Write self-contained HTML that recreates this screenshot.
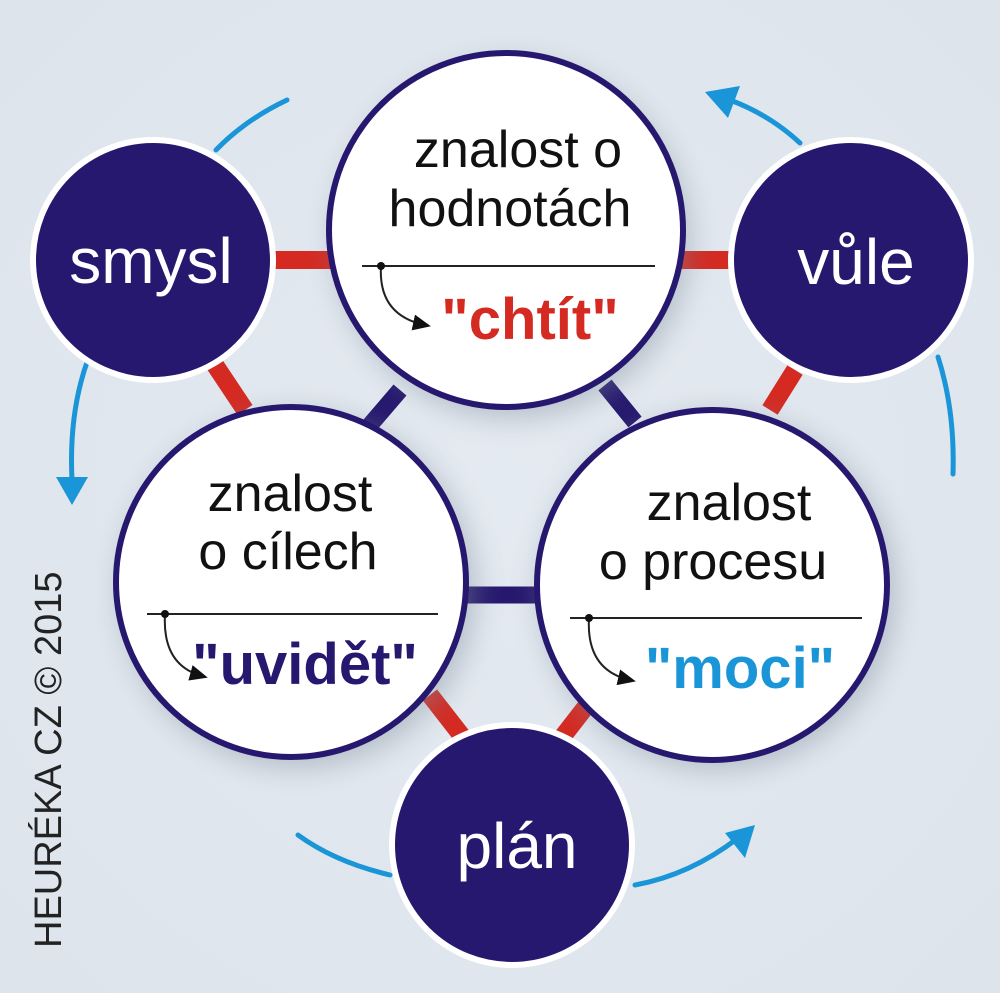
<!DOCTYPE html>
<html><head><meta charset="utf-8"><style>
html,body{margin:0;padding:0;background:#dfe6ee;}
svg{display:block;}
text{font-family:"Liberation Sans",sans-serif;}
</style></head><body>
<svg width="1000" height="993" viewBox="0 0 1000 993" xmlns="http://www.w3.org/2000/svg">
<defs>
<radialGradient id="bg" cx="0.5" cy="0.5" r="0.7"><stop offset="0" stop-color="#e4eaf1"/><stop offset="1" stop-color="#dde4ec"/></radialGradient>
<filter id="sh" x="-30%" y="-30%" width="160%" height="160%"><feGaussianBlur stdDeviation="14"/></filter>
<marker id="ah" markerWidth="20" markerHeight="16" refX="12" refY="8" orient="auto" markerUnits="userSpaceOnUse"><path d="M0,0 L18,8 L0,16 Z" fill="#111"/></marker>
</defs>
<rect width="1000" height="993" fill="url(#bg)"/>
<g stroke="#1a95d8" stroke-width="5" fill="none" stroke-linecap="round">
<path d="M287,100 Q245,120 216,150"/>
<path d="M96,340 Q68,400 72,480"/>
<path d="M800,143 Q770,115 730,100"/>
<path d="M938,357 Q955,410 953,474"/>
<path d="M298,835 Q335,862 390,875"/>
<path d="M635,885 Q690,875 738,838"/>
</g>
<g fill="#1a95d8">
<polygon points="56,477 88,477 72,505"/>
<polygon points="705,92 740,86 728,118"/>
<polygon points="755,825 745,858 725,833"/>
</g>
<g stroke-linecap="butt">
<line x1="270" y1="260" x2="335" y2="260" stroke="#d42a22" stroke-width="18"/>
<line x1="680" y1="260" x2="735" y2="260" stroke="#d42a22" stroke-width="18"/>
<line x1="215" y1="365" x2="245" y2="410" stroke="#d42a22" stroke-width="18"/>
<line x1="795" y1="370" x2="770" y2="410" stroke="#d42a22" stroke-width="18"/>
<line x1="430" y1="695" x2="465" y2="740" stroke="#d42a22" stroke-width="18"/>
<line x1="595" y1="695" x2="560" y2="740" stroke="#d42a22" stroke-width="18"/>
<line x1="400" y1="390" x2="370" y2="425" stroke="#26186e" stroke-width="17"/>
<line x1="605" y1="385" x2="635" y2="422" stroke="#26186e" stroke-width="17"/>
<line x1="460" y1="595" x2="545" y2="595" stroke="#26186e" stroke-width="17"/>
</g>
<g fill="#7f8a99" opacity="0.45" filter="url(#sh)">
<circle cx="512" cy="240" r="178"/>
<circle cx="298" cy="590" r="178"/>
<circle cx="718" cy="592" r="178"/>
</g>
<g fill="#fff" stroke="#26186e" stroke-width="6">
<circle cx="506" cy="230" r="177"/>
<circle cx="291" cy="582" r="175"/>
<circle cx="712" cy="585" r="175"/>
</g>
<g fill="#27186f" stroke="#fff" stroke-width="6">
<circle cx="153" cy="260" r="120"/>
<circle cx="851" cy="260" r="120"/>
<circle cx="512" cy="845" r="120"/>
</g>
<g fill="#fff" font-size="64" text-anchor="middle">
<text x="151" y="283">smysl</text>
<text x="856" y="284">vůle</text>
<text x="517" y="868">plán</text>
</g>
<g fill="#111" font-size="52" text-anchor="middle">
<text x="518" y="167">znalost o</text>
<text x="510" y="226">hodnotách</text>
<text x="290" y="511">znalost</text>
<text x="288" y="569">o cílech</text>
<text x="729" y="520">znalost</text>
<text x="713" y="579">o procesu</text>
</g>
<g stroke="#222" stroke-width="2" fill="none">
<line x1="362" y1="266" x2="655" y2="266"/>
<line x1="147" y1="614" x2="438" y2="614"/>
<line x1="570" y1="618" x2="862" y2="618"/>
<path d="M381,266 Q378,315 425,325" marker-end="url(#ah)"/>
<path d="M165,614 Q162,665 202,676" marker-end="url(#ah)"/>
<path d="M589,618 Q586,670 630,680" marker-end="url(#ah)"/>
</g>
<g fill="#111"><circle cx="381" cy="266" r="4"/><circle cx="165" cy="614" r="4"/><circle cx="589" cy="618" r="4"/></g>
<g font-size="58" font-weight="bold" text-anchor="middle">
<text x="530" y="339" fill="#d42a22">"chtít"</text>
<text x="305" y="684" fill="#26186e">"uvidět"</text>
<text x="740" y="688" fill="#1a95d8">"moci"</text>
</g>
<text transform="translate(61,948) rotate(-90)" font-size="38" fill="#222">HEURÉKA CZ © 2015</text>
</svg>
</body></html>
